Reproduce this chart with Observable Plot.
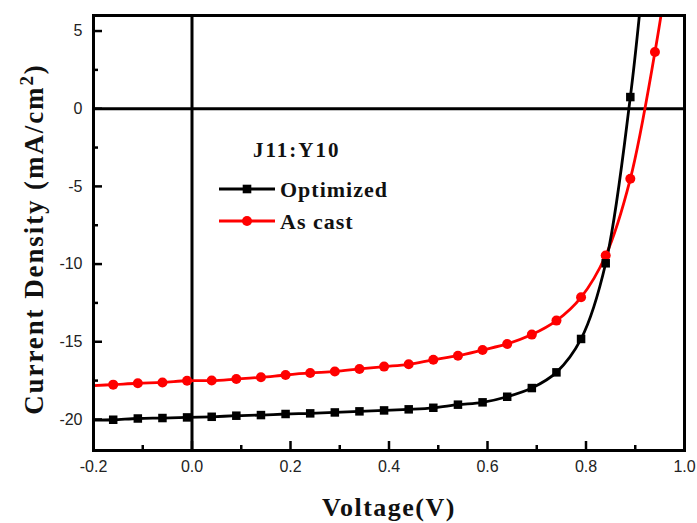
<!DOCTYPE html>
<html>
<head>
<meta charset="utf-8">
<script src="https://cdn.jsdelivr.net/npm/d3@7"></script>
<script src="https://cdn.jsdelivr.net/npm/@observablehq/plot@0.6"></script>
<style>
  html, body { margin: 0; padding: 0; background: #fff; }
  #chart svg { display: block; }
</style>
</head>
<body>
<div id="chart"></div>
<script>
// J–V sweep of J11:Y10 devices, sampled every 0.05 V
const voltage = [-0.16, -0.11, -0.06, -0.01, 0.04, 0.09, 0.14, 0.19, 0.24, 0.29, 0.34, 0.39,
                 0.44, 0.49, 0.54, 0.59, 0.64, 0.69, 0.74, 0.79, 0.84, 0.89, 0.94];
const optimizedJ = [-20.02, -19.94, -19.91, -19.87, -19.83, -19.76, -19.72, -19.65, -19.61, -19.55, -19.48, -19.42,
                    -19.35, -19.25, -19.05, -18.90, -18.54, -17.98, -16.97, -14.82, -9.95, 0.75];
const asCastJ = [-17.76, -17.67, -17.62, -17.51, -17.50, -17.40, -17.29, -17.14, -17.01, -16.91, -16.75, -16.60,
                 -16.45, -16.16, -15.90, -15.53, -15.14, -14.54, -13.64, -12.14, -9.45, -4.51, 3.65];
// sweep ends outside the marked samples (first at -0.2 V, last beyond the frame)
const optimizedEnds = [[-0.2, -20.05], [0.92, 9.8]];
const asCastEnds = [[-0.2, -17.82], [0.97, 9.7]];

const seriesNames = ["Optimized", "As cast"];
const seriesColors = ["#000000", "#ff0000"];
const legendTitle = "J11:Y10";

const xMajor = [-0.2, 0.0, 0.2, 0.4, 0.6, 0.8, 1.0];
const xMinor = [-0.1, 0.1, 0.3, 0.5, 0.7, 0.9];
const yMajor = [-20, -15, -10, -5, 0, 5];
const yMinor = [-17.5, -12.5, -7.5, -2.5, 2.5];

const optimizedPts = optimizedJ.map((j, i) => ({V: voltage[i], J: j}));
const asCastPts = asCastJ.map((j, i) => ({V: voltage[i], J: j}));
const optimizedLine = [
  {V: optimizedEnds[0][0], J: optimizedEnds[0][1]}, ...optimizedPts,
  {V: optimizedEnds[1][0], J: optimizedEnds[1][1]}];
const asCastLine = [
  {V: asCastEnds[0][0], J: asCastEnds[0][1]}, ...asCastPts,
  {V: asCastEnds[1][0], J: asCastEnds[1][1]}];

const W = 697, H = 523;
const mL = 93, mR = 13, mT = 15, mB = 73;
const frameW = W - mL - mR, frameH = H - mT - mB;

const plot = Plot.plot({
  width: W,
  height: H,
  marginLeft: mL,
  marginRight: mR,
  marginTop: mT,
  marginBottom: mB,
  style: {fontFamily: "'Liberation Sans', Arial, sans-serif", fontSize: "16px", color: "#222", background: "#fff"},
  x: {domain: [-0.2, 1.0]},
  y: {domain: [-22, 6]},
  marks: [
    Plot.axisX(xMajor, {tickSize: 0, tickPadding: 10, tickFormat: d => d.toFixed(1), label: null, fontSize: 16}),
    Plot.axisY(yMajor, {tickSize: 0, tickPadding: 11, tickFormat: d => String(d), label: null, fontSize: 16}),
    // inward ticks on bottom and left edges
    Plot.ruleX(xMajor, {x: d => d, insetTop: frameH - 9, stroke: "#000", strokeWidth: 2.5}),
    Plot.ruleX(xMinor, {x: d => d, insetTop: frameH - 5, stroke: "#000", strokeWidth: 2.5}),
    Plot.ruleY(yMajor, {y: d => d, insetRight: frameW - 9, stroke: "#000", strokeWidth: 2.5}),
    Plot.ruleY(yMinor, {y: d => d, insetRight: frameW - 5, stroke: "#000", strokeWidth: 2.5}),
    // zero axes
    Plot.ruleX([0], {stroke: "#000", strokeWidth: 3}),
    Plot.ruleY([0], {stroke: "#000", strokeWidth: 3}),
    Plot.line(asCastLine, {x: "V", y: "J", stroke: seriesColors[1], strokeWidth: 2.8, curve: "catmull-rom", clip: true}),
    Plot.line(optimizedLine, {x: "V", y: "J", stroke: seriesColors[0], strokeWidth: 2.8, curve: "catmull-rom", clip: true}),
    Plot.dot(asCastPts, {x: "V", y: "J", symbol: "circle", fill: seriesColors[1], r: 5, clip: true}),
    Plot.dot(optimizedPts, {x: "V", y: "J", symbol: "square", fill: seriesColors[0], r: 4.8, clip: true}),
    Plot.frame({stroke: "#000", strokeWidth: 3})
  ]
});

document.getElementById("chart").appendChild(plot);

// axis titles and legend
const svg = d3.select(plot);
const serif = "'Liberation Serif', 'Times New Roman', serif";

svg.append("text")
  .attr("x", 389).attr("y", 516)
  .attr("text-anchor", "middle")
  .attr("font-family", serif).attr("font-weight", "bold")
  .attr("font-size", 26).attr("letter-spacing", 1.5)
  .attr("fill", "#111")
  .text("Voltage(V)");

const yTitle = svg.append("text")
  .attr("transform", "translate(43,239) rotate(-90)")
  .attr("text-anchor", "middle")
  .attr("font-family", serif).attr("font-weight", "bold")
  .attr("font-size", 27).attr("letter-spacing", 1.9)
  .attr("fill", "#111");
yTitle.append("tspan").text("Current Density (mA/cm");
yTitle.append("tspan").attr("dy", -10).attr("font-size", 19).text("2");
yTitle.append("tspan").attr("dy", 10).text(")");

const legend = svg.append("g")
  .attr("text-anchor", "start")
  .attr("font-family", serif).attr("font-weight", "bold").attr("fill", "#111");
legend.append("text")
  .attr("x", 253).attr("y", 157)
  .attr("font-size", 21).attr("letter-spacing", 2)
  .text(legendTitle);

seriesNames.forEach((name, i) => {
  const cy = 189 + i * 32;
  legend.append("line")
    .attr("x1", 219).attr("x2", 275).attr("y1", cy).attr("y2", cy)
    .attr("stroke", seriesColors[i]).attr("stroke-width", 2.8);
  if (i === 0) {
    legend.append("rect")
      .attr("x", 247 - 4.3).attr("y", cy - 4.3).attr("width", 8.6).attr("height", 8.6)
      .attr("fill", seriesColors[i]);
  } else {
    legend.append("circle")
      .attr("cx", 247).attr("cy", cy).attr("r", 5)
      .attr("fill", seriesColors[i]);
  }
  legend.append("text")
    .attr("x", 280).attr("y", cy + 8)
    .attr("font-size", 22).attr("letter-spacing", 1)
    .text(name);
});
</script>
</body>
</html>
